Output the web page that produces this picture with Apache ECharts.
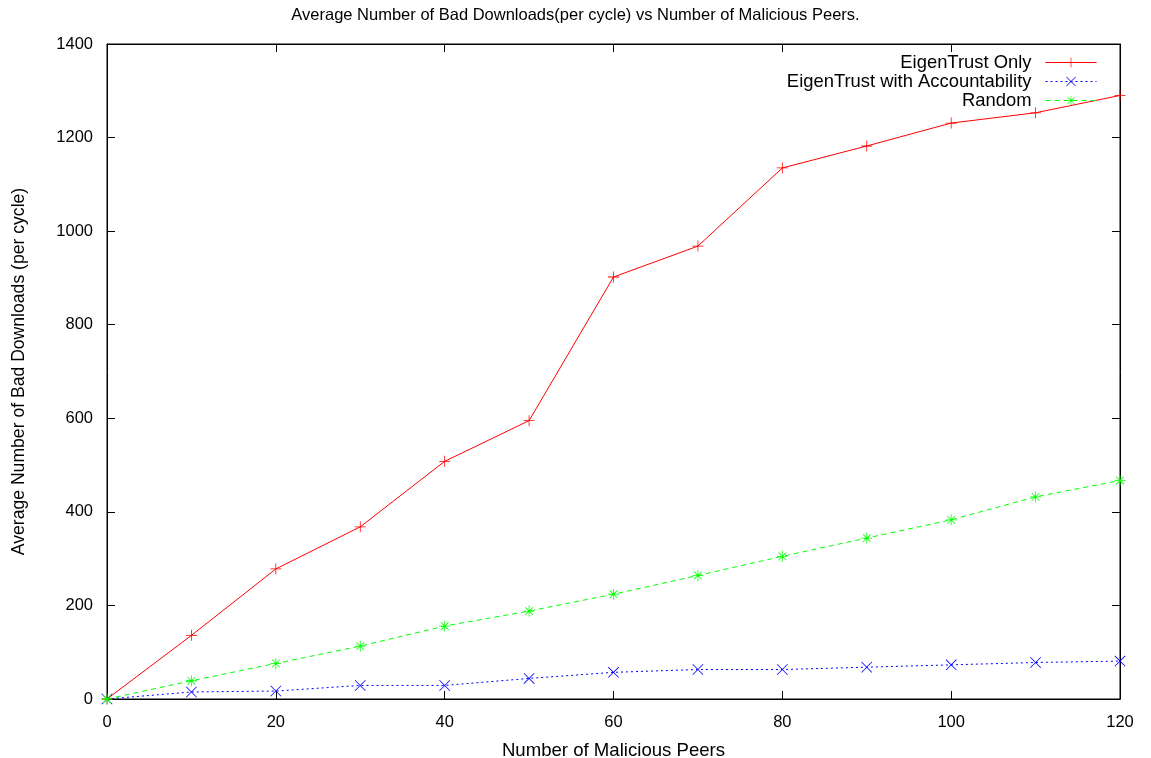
<!DOCTYPE html>
<html>
<head>
<meta charset="utf-8">
<script src="https://cdn.jsdelivr.net/npm/echarts@6/dist/echarts.min.js"></script>
<style>
html,body{margin:0;padding:0;background:#fff;}
#chart{width:1151px;height:758px;}
</style>
</head>
<body>
<div id="chart"></div>
<script>
var maliciousPeers = [0, 10, 20, 30, 40, 50, 60, 70, 80, 90, 100, 110, 120];
var eigenTrustOnly = [0, 136, 278, 368, 508, 595, 902, 968, 1135, 1182, 1231, 1253, 1290];
var eigenTrustAccountability = [0, 15, 17, 29, 29, 44, 57, 63, 63, 68, 73, 78, 81];
var randomSel = [0, 39, 76, 113, 156, 188, 224, 264, 305, 344, 383, 432, 467];
var seriesNames = ['EigenTrust Only', 'EigenTrust with Accountability', 'Random'];

function pairs(ys){ return maliciousPeers.map(function(x,i){ return [x, ys[i]]; }); }

var PLUS = 'path://M9.3,0h1.4v20h-1.4z M0,9.3h20v1.4h-20z';
var CROSS = 'path://M0,1L1,0L20,19L19,20Z M19,0L20,1L1,20L0,19Z';
var STAR = 'path://M9.3,0h1.4v20h-1.4z M0,9.3h20v1.4h-20z M2.5,3.5L3.5,2.5L17.5,16.5L16.5,17.5Z M16.5,2.5L17.5,3.5L3.5,17.5L2.5,16.5Z';

var font = 'Liberation Sans, Arial, sans-serif';
var chart = echarts.init(document.getElementById('chart'), null, {renderer:'canvas'});

function tick(){ return {show:true, inside:true, length:8, lineStyle:{color:'#000', width:1}}; }
function line(){ return {show:true, onZero:false, lineStyle:{color:'#000', width:1}}; }
function plain(v){ return String(v); }

chart.setOption({
  animation:false,
  backgroundColor:'#fff',
  title:{
    text:'Average Number of Bad Downloads(per cycle) vs Number of Malicious Peers.',
    left:'center', top:7, padding:0,
    textStyle:{fontFamily:font, fontSize:16.5, fontWeight:'normal', color:'#000'}
  },
  legend:{
    orient:'vertical', right:54, top:53, align:'right', padding:0,
    itemWidth:51, itemHeight:12, itemGap:0,
    lineStyle:{width:1},
    textStyle:{fontFamily:font, fontSize:18.4, lineHeight:19, color:'#000', padding:[0,9,0,0]},
    data:seriesNames
  },
  grid:{left:107, right:31, top:44, bottom:59, show:true, borderColor:'#000', borderWidth:1,
        containLabel:false, outerBoundsMode:'none'},
  xAxis:[
    {
      type:'value', min:0, max:120, interval:20, position:'bottom',
      axisLine:line(), axisTick:tick(), splitLine:{show:false},
      name:'Number of Malicious Peers', nameLocation:'middle', nameGap:42,
      nameTextStyle:{fontFamily:font, fontSize:18.6, color:'#000'},
      axisLabel:{fontFamily:font, fontSize:16.5, color:'#000', margin:15, formatter:plain}
    },
    {
      type:'value', min:0, max:120, interval:20, position:'top',
      axisLine:line(), axisTick:tick(), splitLine:{show:false},
      axisLabel:{show:false}
    }
  ],
  yAxis:[
    {
      type:'value', min:0, max:1400, interval:200, position:'left',
      axisLine:line(), axisTick:tick(), splitLine:{show:false},
      name:'Average Number of Bad Downloads (per cycle)', nameLocation:'middle', nameGap:79,
      nameTextStyle:{fontFamily:font, fontSize:17.6, color:'#000'},
      axisLabel:{fontFamily:font, fontSize:16.5, color:'#000', margin:14, formatter:plain}
    },
    {
      type:'value', min:0, max:1400, interval:200, position:'right',
      axisLine:line(), axisTick:tick(), splitLine:{show:false},
      axisLabel:{show:false}
    }
  ],
  series:[
    {
      name:seriesNames[0], type:'line', data:pairs(eigenTrustOnly),
      symbol:PLUS, symbolSize:11, showAllSymbol:true,
      lineStyle:{color:'#ff0000', width:1, type:'solid'},
      itemStyle:{color:'#ff0000'}
    },
    {
      name:seriesNames[1], type:'line', data:pairs(eigenTrustAccountability),
      symbol:CROSS, symbolSize:11, showAllSymbol:true,
      lineStyle:{color:'#0000ff', width:1, type:[2,3]},
      itemStyle:{color:'#0000ff'}
    },
    {
      name:seriesNames[2], type:'line', data:pairs(randomSel),
      symbol:STAR, symbolSize:11, showAllSymbol:true,
      lineStyle:{color:'#00ff00', width:1, type:[5,4]},
      itemStyle:{color:'#00ff00'}
    }
  ]
});
</script>
</body>
</html>
